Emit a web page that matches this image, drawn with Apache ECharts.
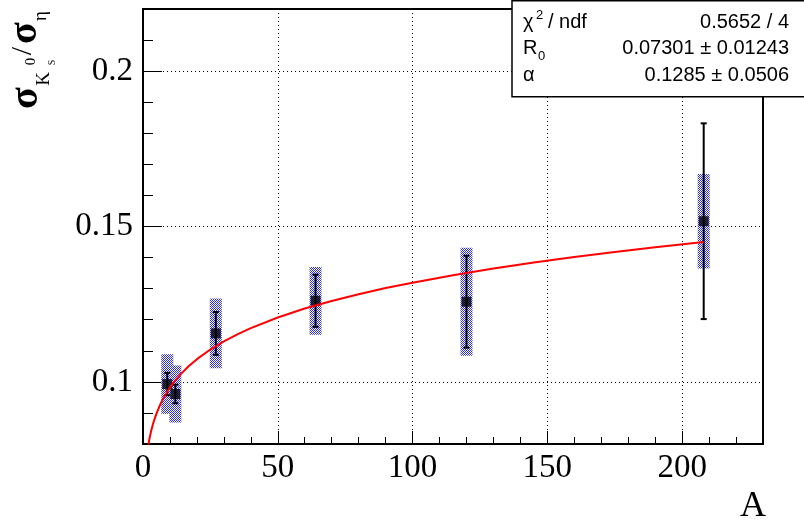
<!DOCTYPE html>
<html><head><meta charset="utf-8">
<script src="https://cdn.jsdelivr.net/npm/echarts@6/dist/echarts.min.js"></script>
<style>html,body{margin:0;padding:0;background:#fff}#c{width:804px;height:524px}</style>
</head><body><div id="c"></div>
<script>
// ---- data ----
const massNumbers = [9, 12, 27, 64, 120, 208];
const ratioValues = [0.0993, 0.0961, 0.1156, 0.1261, 0.1258, 0.1517];
const statErrors  = [0.0036, 0.0030, 0.0069, 0.0084, 0.0148, 0.0315];
const systErrors  = [0.0096, 0.0092, 0.0112, 0.0109, 0.0174, 0.0152];
// fit curve
const fitA      = [2, 2.25, 2.5, 3, 3.5, 4, 5, 6, 7, 8, 9, 10, 12, 14, 17, 20, 25, 30, 35, 40, 50, 60, 70, 80, 90, 100, 115, 130, 145, 160, 175, 190, 208];
const fitValues = [0.0798, 0.0810, 0.0821, 0.0841, 0.0858, 0.0873, 0.0898, 0.0919, 0.0938, 0.0954, 0.0968, 0.0982, 0.1005, 0.1025, 0.1051, 0.1073, 0.1104, 0.1130, 0.1153, 0.1173, 0.1207, 0.1236, 0.1260, 0.1282, 0.1302, 0.1319, 0.1343, 0.1365, 0.1384, 0.1402, 0.1418, 0.1433, 0.1450];
const xMajorTicks = [0, 50, 100, 150, 200];
const yMajorTicks = [0.1, 0.15, 0.2];
const statNames  = ['χ', 'R', 'α'];
const statValues = ['0.5652 / 4', '0.07301 ± 0.01243', '0.1285 ± 0.0506'];

const points = massNumbers.map((a, i) => [a, ratioValues[i], statErrors[i], systErrors[i]]);
const fitLine = fitA.map((a, i) => [a, fitValues[i]]);

// checker pattern for syst boxes
const pc = document.createElement('canvas');
pc.width = 2; pc.height = 2;
const pctx = pc.getContext('2d');
pctx.fillStyle = '#ffffff'; pctx.fillRect(0, 0, 2, 2);
pctx.fillStyle = '#2a2aff'; pctx.fillRect(0, 0, 1, 1); pctx.fillRect(1, 1, 1, 1);
const checker = { image: pc, repeat: 'repeat' };

const serif = 'Liberation Serif';
const sans = 'Liberation Sans';
const tickStyle = { color: '#000', width: 1 };

const chart = echarts.init(document.getElementById('c'), null, { renderer: 'canvas' });

function txt(text, x, y, size, family, align, extra) {
  return Object.assign({
    type: 'text', x: x, y: y, z: 110,
    style: { text: text, font: size + 'px "' + family + '"', fill: '#000',
      textAlign: align || 'left', textVerticalAlign: 'middle', align: align || 'left', verticalAlign: 'middle' }
  }, extra || {});
}

const statTexts = [];
const rowY = [22, 48.5, 75];
statNames.forEach((n, i) => {
  statTexts.push(txt(n, 523, rowY[i], 20, sans, 'left'));
  statTexts.push(txt(statValues[i], 789, rowY[i], 20, sans, 'right'));
});
statTexts.push(txt('2', 536, 15, 13, sans, 'left'));
statTexts.push(txt('/ ndf', 548, rowY[0], 20, sans, 'left'));
statTexts.push(txt('0', 538, 56, 13, sans, 'left'));

function ttxt(text, x, y, size, weight) {
  return { type: 'text', x: x, y: y,
    style: { text: text, font: (weight || 'normal') + ' ' + size + 'px "' + serif + '"', fill: '#000',
      textAlign: 'center', textVerticalAlign: 'middle', align: 'center', verticalAlign: 'middle' } };
}

chart.setOption({
  animation: false,
  backgroundColor: '#fff',
  grid: { left: 143, top: 9, width: 620, height: 435, show: true, borderColor: '#000', borderWidth: 2, backgroundColor: 'transparent' },
  xAxis: [
    { type: 'value', min: 0, max: 230, interval: 10,
      axisLine: { show: false }, axisTick: { show: true, inside: true, length: 7, lineStyle: tickStyle },
      axisLabel: { show: false }, splitLine: { show: false } },
    { type: 'value', min: 0, max: 230, interval: 50, position: 'bottom',
      axisLine: { show: false },
      axisTick: { show: true, inside: true, length: 13, lineStyle: tickStyle, customValues: xMajorTicks },
      axisLabel: { customValues: xMajorTicks, color: '#000', fontFamily: serif, fontSize: 33, margin: 8 },
      splitLine: { show: true, lineStyle: { color: '#000', type: [1, 3], width: 1 } } }
  ],
  yAxis: [
    { type: 'value', min: 0.08, max: 0.22, interval: 0.01,
      axisLine: { show: false }, axisTick: { show: true, inside: true, length: 10, lineStyle: tickStyle },
      axisLabel: { show: false }, splitLine: { show: false } },
    { type: 'value', min: 0.08, max: 0.22, position: 'left',
      axisLine: { show: false },
      axisTick: { show: true, inside: true, length: 19, lineStyle: tickStyle, customValues: yMajorTicks },
      axisLabel: { customValues: yMajorTicks, color: '#000', fontFamily: serif, fontSize: 33, margin: 10 },
      splitLine: { show: true, lineStyle: { color: '#000', type: [1, 3], width: 1 } } }
  ],
  series: [
    { type: 'custom', name: 'syst', xAxisIndex: 0, yAxisIndex: 0, clip: true, z: 2,
      data: points,
      renderItem: function (params, api) {
        const top = api.coord([api.value(0), api.value(1) + api.value(3)]);
        const bot = api.coord([api.value(0), api.value(1) - api.value(3)]);
        return { type: 'rect', shape: { x: top[0] - 6, y: top[1], width: 12, height: bot[1] - top[1] },
          style: { fill: checker } };
      } },
    { type: 'custom', name: 'stat', xAxisIndex: 0, yAxisIndex: 0, clip: true, z: 3,
      data: points,
      renderItem: function (params, api) {
        const top = api.coord([api.value(0), api.value(1) + api.value(2)]);
        const bot = api.coord([api.value(0), api.value(1) - api.value(2)]);
        const st = { stroke: '#000', lineWidth: 2 };
        return { type: 'group', children: [
          { type: 'line', shape: { x1: top[0], y1: top[1], x2: bot[0], y2: bot[1] }, style: st },
          { type: 'line', shape: { x1: top[0] - 3, y1: top[1], x2: top[0] + 3, y2: top[1] }, style: st },
          { type: 'line', shape: { x1: bot[0] - 3, y1: bot[1], x2: bot[0] + 3, y2: bot[1] }, style: st }
        ] };
      } },
    { type: 'scatter', name: 'points', xAxisIndex: 0, yAxisIndex: 0, z: 4,
      data: points.map(p => [p[0], p[1]]), symbol: 'rect', symbolSize: 10,
      itemStyle: { color: '#000' } },
    { type: 'line', name: 'fit', xAxisIndex: 0, yAxisIndex: 0, z: 5,
      data: fitLine, showSymbol: false, symbol: 'none', smooth: false,
      lineStyle: { color: '#ff0000', width: 2 } }
  ],
  graphic: [
    { type: 'rect', z: 100, shape: { x: 512, y: 0.75, width: 300, height: 96 },
      style: { fill: '#fff', stroke: '#000', lineWidth: 1.5 } },
    ...statTexts,
    txt('A', 766, 507, 36, serif, 'right'),
    { type: 'group', x: 40, y: 108, rotation: Math.PI / 2, z: 110, children: [
      ttxt('σ', 10, -13, 40, 'bold'),
      ttxt('K', 29, 4, 19),
      ttxt('S', 45.5, 12, 10),
      ttxt('0', 46.5, -8.5, 15),
      ttxt('/', 57, -17, 30),
      ttxt('σ', 75, -14, 40, 'bold'),
      ttxt('η', 92, 1.5, 19)
    ] }
  ]
});
</script></body></html>
